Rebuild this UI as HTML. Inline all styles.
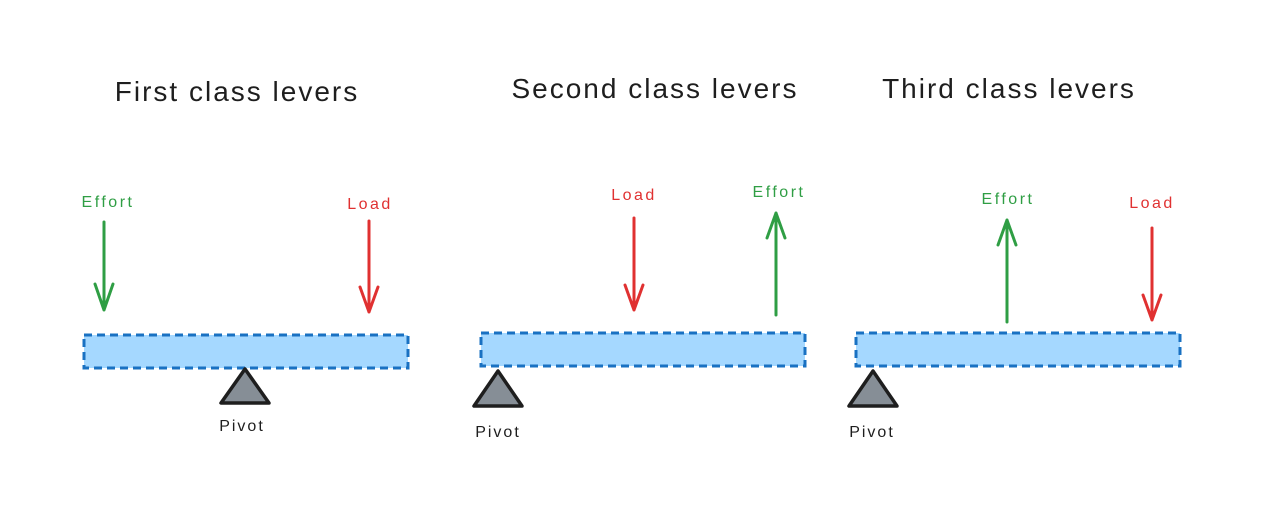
<!DOCTYPE html>
<html><head><meta charset="utf-8"><style>
html,body{margin:0;padding:0;background:#fff;}
svg{display:block;}
text{font-family:"Liberation Sans",sans-serif;}
.t{font-size:28px;fill:#1e1e1e;text-anchor:middle;letter-spacing:2px;}
.g{font-size:16px;fill:#2f9e44;text-anchor:middle;letter-spacing:2.5px;}
.r{font-size:16px;fill:#e03131;text-anchor:middle;letter-spacing:2.5px;}
.p{font-size:16px;fill:#1e1e1e;text-anchor:middle;letter-spacing:2px;}
.bar{fill:#a5d8ff;stroke:#1971c2;stroke-width:3;stroke-dasharray:8 5;}
.tri{fill:#868e96;stroke:#1e1e1e;stroke-width:3.5;stroke-linejoin:round;}
.ga{stroke:#2f9e44;stroke-width:3;fill:none;stroke-linecap:round;stroke-linejoin:round;}
.ra{stroke:#e03131;stroke-width:3;fill:none;stroke-linecap:round;stroke-linejoin:round;}
</style></head><body>
<svg width="1266" height="519" viewBox="0 0 1266 519">
<g>
<text class="t" x="237" y="101">First class levers</text>
<rect class="bar" x="84" y="335" width="324" height="33"/>
<polygon class="tri" points="245,369 221,403 269,403"/>
<text class="p" x="242" y="431">Pivot</text>
<text class="g" x="108" y="207">Effort</text>
<path class="ga" d="M104 222 L104 310 M95 284 L104 310 L113 284"/>
<text class="r" x="370" y="209">Load</text>
<path class="ra" d="M369 221 L369 312 M360 287 L369 312 L378 287"/>
</g>
<g>
<text class="t" x="655" y="98">Second class levers</text>
<rect class="bar" x="481" y="333" width="324" height="33"/>
<polygon class="tri" points="498,371 474,406 522,406"/>
<text class="p" x="498" y="437">Pivot</text>
<text class="r" x="634" y="200">Load</text>
<path class="ra" d="M634 218 L634 310 M625 285 L634 310 L643 285"/>
<text class="g" x="779" y="197">Effort</text>
<path class="ga" d="M776 315 L776 213 M767 238 L776 213 L785 238"/>
</g>
<g>
<text class="t" x="1009" y="98">Third class levers</text>
<rect class="bar" x="856" y="333" width="324" height="33"/>
<polygon class="tri" points="873,371 849,406 897,406"/>
<text class="p" x="872" y="437">Pivot</text>
<text class="g" x="1008" y="204">Effort</text>
<path class="ga" d="M1007 322 L1007 220 M998 245 L1007 220 L1016 245"/>
<text class="r" x="1152" y="208">Load</text>
<path class="ra" d="M1152 228 L1152 320 M1143 295 L1152 320 L1161 295"/>
</g>
</svg>
</body></html>
